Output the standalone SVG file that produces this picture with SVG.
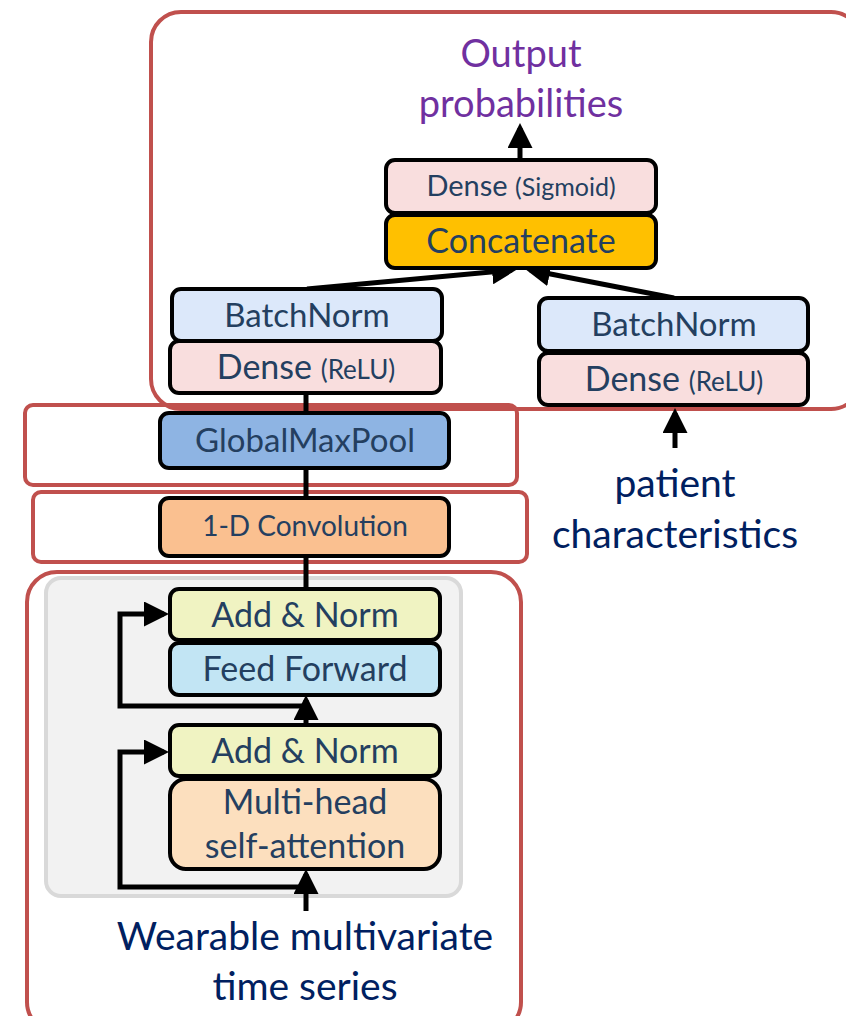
<svg xmlns="http://www.w3.org/2000/svg" width="846" height="1016" viewBox="0 0 846 1016">
<style>
.grp{fill:none;stroke:#C0504D;stroke-width:4}
.node{stroke:#000;stroke-width:4}
.lbl{font-family:Lato,"Open Sans","Liberation Sans",sans-serif;fill:#243F60;text-anchor:middle}
.big{font-family:Lato,"Open Sans","Liberation Sans",sans-serif;text-anchor:middle}
.ln{fill:none;stroke:#000;stroke-width:5}
</style>
<defs>
<marker id="ah" markerWidth="5" markerHeight="5" refX="4" refY="2.5" orient="auto" markerUnits="strokeWidth">
<path d="M0,0 L5,2.5 L0,5 Z" fill="#000"/>
</marker>
</defs>
<rect width="846" height="1016" fill="#fff"/>

<g id="groups">
<rect class="grp" x="151" y="12" width="710" height="397" rx="30"/>
<rect class="grp" x="25" y="405" width="492" height="80" rx="8"/>
<rect class="grp" x="33" y="492" width="494" height="70" rx="8"/>
<rect class="grp" x="27" y="572" width="494" height="460" rx="30"/>
<rect x="46" y="578" width="415" height="318" rx="15" fill="#F2F2F2" stroke="#D9D9D9" stroke-width="4"/>
</g>

<g id="connectors">
<line class="ln" x1="520" y1="160" x2="520" y2="128" marker-end="url(#ah)"/>
<line class="ln" x1="307" y1="289" x2="512" y2="270" marker-end="url(#ah)"/>
<line class="ln" x1="674" y1="298" x2="530" y2="270" marker-end="url(#ah)"/>
<line class="ln" x1="306" y1="393" x2="306" y2="413"/>
<line class="ln" x1="306" y1="468" x2="306" y2="498"/>
<line class="ln" x1="306" y1="556" x2="306" y2="589"/>
<line class="ln" x1="675" y1="448" x2="675" y2="413" marker-end="url(#ah)"/>
<line class="ln" x1="306" y1="725" x2="306" y2="700" marker-end="url(#ah)"/>
<polyline class="ln" points="306,706 120,706 120,614 164,614" marker-end="url(#ah)"/>
<line class="ln" x1="306" y1="911" x2="306" y2="874" marker-end="url(#ah)"/>
<polyline class="ln" points="306,887 120,887 120,752 164,752" marker-end="url(#ah)"/>
</g>

<g id="output-label">
<text class="big" x="521" y="67" font-size="38" fill="#7030A0">Output</text>
<text class="big" x="521" y="117" font-size="38" fill="#7030A0">probabilities</text>
</g>

<g id="dense-sigmoid">
<rect class="node" x="386" y="160" width="270" height="53" rx="9" fill="#F9DEDE"/>
<text class="lbl" x="521" y="196"><tspan font-size="29">Dense </tspan><tspan font-size="25">(Sigmoid)</tspan></text>
</g>
<g id="concatenate">
<rect class="node" x="386" y="215" width="270" height="53" rx="9" fill="#FFC000"/>
<text class="lbl" x="521" y="253" font-size="34">Concatenate</text>
</g>

<g id="batchnorm-left">
<rect class="node" x="172" y="289" width="270" height="52" rx="9" fill="#DCE8FA"/>
<text class="lbl" x="307" y="327" font-size="33">BatchNorm</text>
</g>
<g id="dense-relu-left">
<rect class="node" x="170" y="341" width="271" height="52" rx="9" fill="#F9DEDE"/>
<text class="lbl" x="306" y="379"><tspan font-size="34">Dense </tspan><tspan font-size="26">(ReLU)</tspan></text>
</g>

<g id="batchnorm-right">
<rect class="node" x="539" y="298" width="269" height="53" rx="9" fill="#DCE8FA"/>
<text class="lbl" x="674" y="336" font-size="33">BatchNorm</text>
</g>
<g id="dense-relu-right">
<rect class="node" x="539" y="353" width="269" height="52" rx="9" fill="#F9DEDE"/>
<text class="lbl" x="674" y="391"><tspan font-size="34">Dense </tspan><tspan font-size="26">(ReLU)</tspan></text>
</g>

<g id="patient-label">
<text class="big" x="675" y="497" font-size="39" fill="#002060">patient</text>
<text class="big" x="675" y="548" font-size="39" fill="#002060">characteristics</text>
</g>

<g id="globalmaxpool">
<rect class="node" x="160" y="413" width="289" height="55" rx="9" fill="#8EB4E3"/>
<text class="lbl" x="305" y="452" font-size="33">GlobalMaxPool</text>
</g>

<g id="conv1d">
<rect class="node" x="160" y="498" width="289" height="58" rx="9" fill="#FAC090"/>
<text class="lbl" x="305" y="536" font-size="28">1-D Convolution</text>
</g>

<g id="addnorm-top">
<rect class="node" x="170" y="589" width="270" height="51" rx="9" fill="#F0F3C2"/>
<text class="lbl" x="305" y="627" font-size="34">Add &amp; Norm</text>
</g>
<g id="feedforward">
<rect class="node" x="170" y="643" width="270" height="52" rx="9" fill="#C2E5F4"/>
<text class="lbl" x="305" y="681" font-size="34">Feed Forward</text>
</g>
<g id="addnorm-bottom">
<rect class="node" x="170" y="725" width="270" height="51" rx="9" fill="#F0F3C2"/>
<text class="lbl" x="305" y="763" font-size="34">Add &amp; Norm</text>
</g>
<g id="mhsa">
<rect class="node" x="170" y="779" width="270" height="90" rx="16" fill="#FCDFBE"/>
<text class="lbl" x="305" y="814" font-size="34">Multi-head</text>
<text class="lbl" x="305" y="858" font-size="34">self-attention</text>
</g>

<g id="input-label">
<text class="big" x="305" y="950" font-size="39" fill="#002060">Wearable multivariate</text>
<text class="big" x="305" y="1000" font-size="39" fill="#002060">time series</text>
</g>
</svg>
